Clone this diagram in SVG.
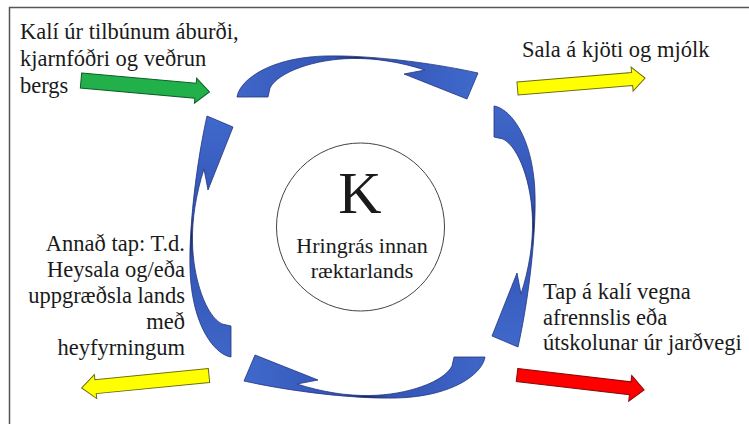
<svg xmlns="http://www.w3.org/2000/svg" xmlns:xlink="http://www.w3.org/1999/xlink" width="749" height="424" viewBox="0 0 749 424">
  <style>
    .t { font-family: "Liberation Serif", "Times New Roman", serif; fill: #1a1a1a; }
    .lbl { font-size: 22.5px; }
    .ring { fill: url(#ringGrad); stroke: #22357f; stroke-width: 0.8; stroke-linejoin: round; }
    .flow { stroke-width: 1; stroke-linejoin: miter; }
  </style>
  <defs>
    <linearGradient id="ringGrad" x1="0" y1="0" x2="1" y2="0">
      <stop offset="0" stop-color="#3f66c8"/>
      <stop offset="0.4" stop-color="#3355b6"/>
      <stop offset="0.5" stop-color="#1b2862"/>
      <stop offset="0.6" stop-color="#3355b6"/>
      <stop offset="1" stop-color="#4069cc"/>
    </linearGradient>
    <path id="ringArrow" class="ring" d="M237,97 C239,83 262,62 310,57 C345,53 420,60 478,73 L467,99 L404,74 L425,70 C400,62 375,58 352,58.5 C315,59 278,72 270,88 L268,97 Z"/>
  </defs>

  <rect x="0" y="0" width="749" height="424" fill="#ffffff"/>
  <!-- frame -->
  <path d="M9.5,424 L9.5,7.5 L749,7.5" fill="none" stroke="#555555" stroke-width="1.5"/>

  <g id="connectors">
    <use xlink:href="#ringArrow" href="#ringArrow"/>
    <use xlink:href="#ringArrow" href="#ringArrow" transform="translate(3,3) rotate(90 361 227)"/>
    <use xlink:href="#ringArrow" href="#ringArrow" transform="rotate(180 361 227)"/>
    <use xlink:href="#ringArrow" href="#ringArrow" transform="translate(0,6) rotate(-90 361 227)"/>

    <path class="flow" fill="#22b04a" stroke="#0b5e25" transform="translate(81,80.5) rotate(5.1)" d="M0,-7.5 L115,-7.5 L115,-12.5 L129,0 L115,12.5 L115,7.5 L0,7.5 Z"/>
    <path class="flow" fill="#ffff00" stroke="#6b6b10" transform="translate(517.5,88.5) rotate(-4.7)" d="M0,-6.5 L115,-6.5 L115,-12 L128,0 L115,12 L115,6.5 L0,6.5 Z"/>
    <path class="flow" fill="#ff0000" stroke="#8a0a0a" transform="translate(517,375) rotate(6.7)" d="M0,-6.5 L114,-6.5 L114,-13 L128,0 L114,13 L114,6.5 L0,6.5 Z"/>
    <path class="flow" fill="#ffff00" stroke="#6b6b10" transform="translate(209,375.5) rotate(174.4)" d="M0,-7 L114,-7 L114,-12 L128,0 L114,12 L114,7 L0,7 Z"/>
  </g>

  <g id="center">
    <circle cx="360.5" cy="227" r="84" fill="#ffffff" stroke="#444444" stroke-width="1"/>
    <text class="t" x="360" y="213" font-size="60" text-anchor="middle">K</text>
    <text class="t" x="362" y="253" font-size="22" text-anchor="middle">Hringrás innan</text>
    <text class="t" x="362" y="278" font-size="22" text-anchor="middle">ræktarlands</text>
  </g>

  <g id="input">
    <text class="t lbl" x="20" y="39">Kalí úr tilbúnum áburði,</text>
    <text class="t lbl" x="20" y="66">kjarnfóðri og veðrun</text>
    <text class="t lbl" x="20" y="93">bergs</text>
  </g>

  <g id="sales">
    <text class="t lbl" x="522" y="57">Sala á kjöti og mjólk</text>
  </g>

  <g id="loss-soil">
    <text class="t lbl" x="543" y="299">Tap á kalí vegna</text>
    <text class="t lbl" x="543" y="325">afrennslis eða</text>
    <text class="t lbl" x="543" y="350">útskolunar úr jarðvegi</text>
  </g>

  <g id="loss-other">
    <text class="t lbl" x="185" y="251" text-anchor="end">Annað tap: T.d.</text>
    <text class="t lbl" x="185" y="277" text-anchor="end">Heysala og/eða</text>
    <text class="t lbl" x="185" y="303" text-anchor="end">uppgræðsla lands</text>
    <text class="t lbl" x="185" y="329" text-anchor="end">með</text>
    <text class="t lbl" x="185" y="355" text-anchor="end">heyfyrningum</text>
  </g>
</svg>
